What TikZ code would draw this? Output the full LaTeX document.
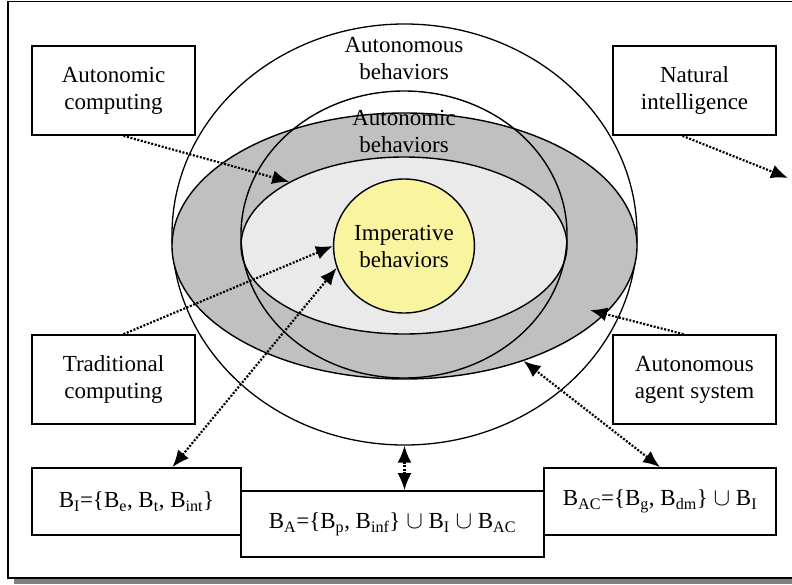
\documentclass[tikz,border=0pt]{standalone}
\usepackage{fontspec}
\setmainfont{Liberation Serif}
\usetikzlibrary{shapes.geometric,arrows.meta,calc}
\definecolor{ringgray}{HTML}{C0C0C0}
\definecolor{coregray}{HTML}{EAEAEA}
\definecolor{impyellow}{HTML}{F8F4A0}

\begin{document}
\begin{tikzpicture}[x=1pt,y=-1pt,
  box/.style={draw,line width=1.7pt,inner sep=0pt,align=center,font=\fontsize{23}{27}\selectfont},
  ell/.style={draw,line width=1.4pt,ellipse,inner sep=0pt},
  lbl/.style={align=center,font=\fontsize{23}{27}\selectfont},
  tip/.tip={Latex[length=17pt,width=14pt]},
  arj/.style={line width=2.2pt,dash pattern=on 2pt off 1.6pt,-tip},
  darj/.style={arj,tip-tip}]
  \useasboundingbox (0,0) rectangle (792,584);
  \clip (0,0) rectangle (792,584);
  % frame with shadow
  \fill[gray] (14,578) rectangle (800,584);
  \draw[line width=1.6pt,fill=white] (8,1.5) rectangle (800,578);

  % behaviour sets
  \node (outer)[ell,line width=1.3pt,minimum width=465pt,minimum height=421pt] at (404.5,234.5) {};
  \node (ring)[ell,fill=ringgray,minimum width=465pt,minimum height=266pt] at (404.5,246) {};
  \node (core)[ell,fill=coregray,minimum width=326pt,minimum height=177pt] at (404,245.5) {};
  \node (mid)[ell,minimum width=326pt,minimum height=287pt] at (404,234.5) {};
  \node (imp)[ell,fill=impyellow,minimum width=140pt,minimum height=134pt,lbl] at (404,246) {Imperative\\behaviors};
  \node (aout)[lbl] at (404,59) {Autonomous\\behaviors};
  \node (amid)[lbl] at (404,131) {Autonomic\\behaviors};

  % side boxes
  \node (ac)[box,minimum width=163pt,minimum height=89pt] at (113.5,90.5) {Autonomic\\computing};
  \node (ni)[box,minimum width=163pt,minimum height=89pt] at (694.5,90.5) {Natural\\intelligence};
  \node (tc)[box,minimum width=163pt,minimum height=89pt] at (113.5,379.5) {Traditional\\computing};
  \node (aas)[box,minimum width=163pt,minimum height=89pt] at (694.5,379.5) {Autonomous\\agent system};

  % definitions
  \node (bi)[box,minimum width=209pt,minimum height=67pt] at (136.5,501.5) {B\textsubscript{I}=\{B\textsubscript{e}, B\textsubscript{t}, B\textsubscript{int}\}};
  \node (ba)[box,minimum width=303pt,minimum height=66pt] at (392.5,524) {B\textsubscript{A}=\{B\textsubscript{p}, B\textsubscript{inf}\} $\cup$ B\textsubscript{I} $\cup$ B\textsubscript{AC}};
  \node (bac)[box,minimum width=232pt,minimum height=67pt] at (660,501.5) {B\textsubscript{AC}=\{B\textsubscript{g}, B\textsubscript{dm}\} $\cup$ B\textsubscript{I}};

  \coordinate (niend) at (788,178);
  \coordinate (ringpt) at (590,310);

  \draw[arj] ([xshift=10pt]ac.south) -- (core.151);
  \draw[arj] ([xshift=-12pt]ni.south) -- (niend);
  \draw[arj] ([xshift=10pt]tc.north) -- (imp.180);
  \draw[darj] ([xshift=36pt]bi.north) -- (imp.198);
  \draw[darj] (outer.south) -- (outer.south |- ba.north);
  \draw[darj] (bac.north) -- (ring.316);
  \draw[arj] ([xshift=-11pt]aas.north) -- (ringpt);
\end{tikzpicture}
\end{document}
